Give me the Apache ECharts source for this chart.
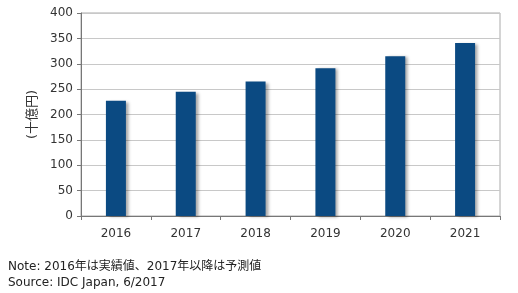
<!DOCTYPE html>
<html><head><meta charset="utf-8">
<script src="https://cdn.jsdelivr.net/npm/echarts@6/dist/echarts.min.js"></script>
<style>html,body{margin:0;padding:0;background:#fff}#c{width:518px;height:293px}</style>
</head><body><div id="c"></div>
<script>
const categories = ['2016','2017','2018','2019','2020','2021'];
const values = [227, 245, 265, 291, 315, 341];
const yTicks = [0, 50, 100, 150, 200, 250, 300, 350, 400];
const yName = '(十億円)';
const notes = ['Note: 2016年は実績値、2017年以降は予測値', 'Source: IDC Japan, 6/2017'];

const font = '"DejaVu Sans", "Noto Sans CJK JP", sans-serif';
const chart = echarts.init(document.getElementById('c'));
chart.setOption({
  animation: false,
  grid: {left: 81, right: 18, top: 13, bottom: 77, show: true, borderColor: '#aaa', borderWidth: 1},
  xAxis: {
    type: 'category', data: categories,
    axisLine: {lineStyle: {color: '#777'}},
    axisTick: {show: true, length: 4, lineStyle: {color: '#777'}},
    axisLabel: {color: '#333', fontSize: 12, fontFamily: font, margin: 12}
  },
  yAxis: {
    type: 'value', min: yTicks[0], max: yTicks[yTicks.length-1], interval: 50,
    name: yName, nameLocation: 'middle', nameGap: 41, nameRotate: 90,
    nameTextStyle: {color: '#333', fontSize: 13, fontFamily: font},
    axisLine: {show: true, lineStyle: {color: '#777'}},
    axisTick: {show: true, length: 4, lineStyle: {color: '#777'}},
    axisLabel: {color: '#333', fontSize: 12, fontFamily: font, margin: 8},
    splitLine: {lineStyle: {color: '#c8c8c8'}}
  },
  series: [{
    type: 'bar', data: values, barWidth: 20,
    itemStyle: {color: '#0b4a82', shadowColor: 'rgba(0,0,0,0.35)', shadowBlur: 3, shadowOffsetX: 3, shadowOffsetY: 1}
  }],
  graphic: notes.map((t, i) => ({
    type: 'text', left: 8, top: 261 + i * 16,
    style: {text: t, fill: '#222', font: '12px ' + font}
  }))
});
</script></body></html>
